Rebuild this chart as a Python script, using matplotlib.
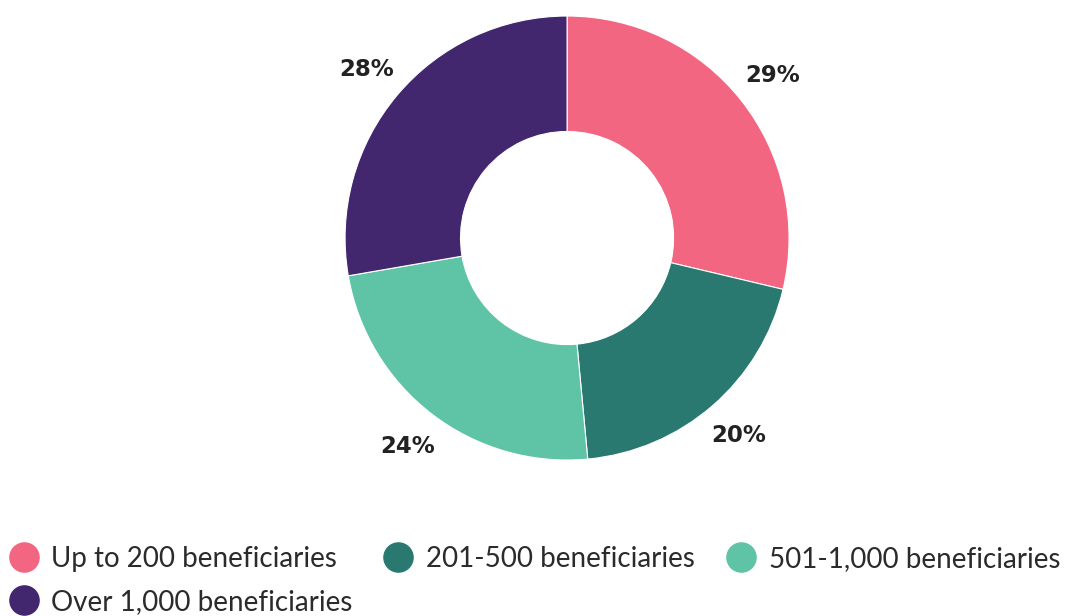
import matplotlib.pyplot as plt
from matplotlib.lines import Line2D

categories = ["Up to 200 beneficiaries", "201-500 beneficiaries",
              "501-1,000 beneficiaries", "Over 1,000 beneficiaries"]
shares = [29, 20, 24, 28]
labels = ["29%", "20%", "24%", "28%"]
colors = ["#F26681", "#2A7970", "#5FC4A6", "#42266E"]

plt.rcParams['font.family'] = ['Lato', 'DejaVu Sans']

fig = plt.figure(figsize=(10.66, 6.16), dpi=100)
ax = fig.add_axes([0.2612, 0.1451, 0.5415, 0.937])

wedges, texts = ax.pie(shares, labels=labels, colors=colors, startangle=90,
                       counterclock=False, radius=1.0, labeldistance=1.18,
                       wedgeprops=dict(width=0.52, edgecolor='white', linewidth=0.8))
for t in texts:
    t.set_ha('center')
    t.set_va('center')
    t.set_fontsize(16.5)
    t.set_fontweight('bold')
    t.set_family('DejaVu Sans')
    t.set_color('#222222')
ax.set_xlim(-1.3, 1.3)
ax.set_ylim(-1.3, 1.3)
ax.set_aspect('equal')

# legend fills column by column, so reorder to read row by row
order = [0, 3, 1, 2]
handles = [Line2D([], [], marker='o', linestyle='', markersize=21,
                  markerfacecolor=colors[i], markeredgecolor=colors[i]) for i in order]
leg_labels = [categories[i] for i in order]
fig.legend(handles, leg_labels, loc='upper left', bbox_to_anchor=(-0.004, 0.132),
           ncol=3, frameon=False, handletextpad=0.4,
           columnspacing=1.05, handlelength=1.2, labelspacing=0.62,
           borderaxespad=0, labelcolor='#2b2b2b', prop={'size': 20})

fig.savefig("out.png", dpi=100)
